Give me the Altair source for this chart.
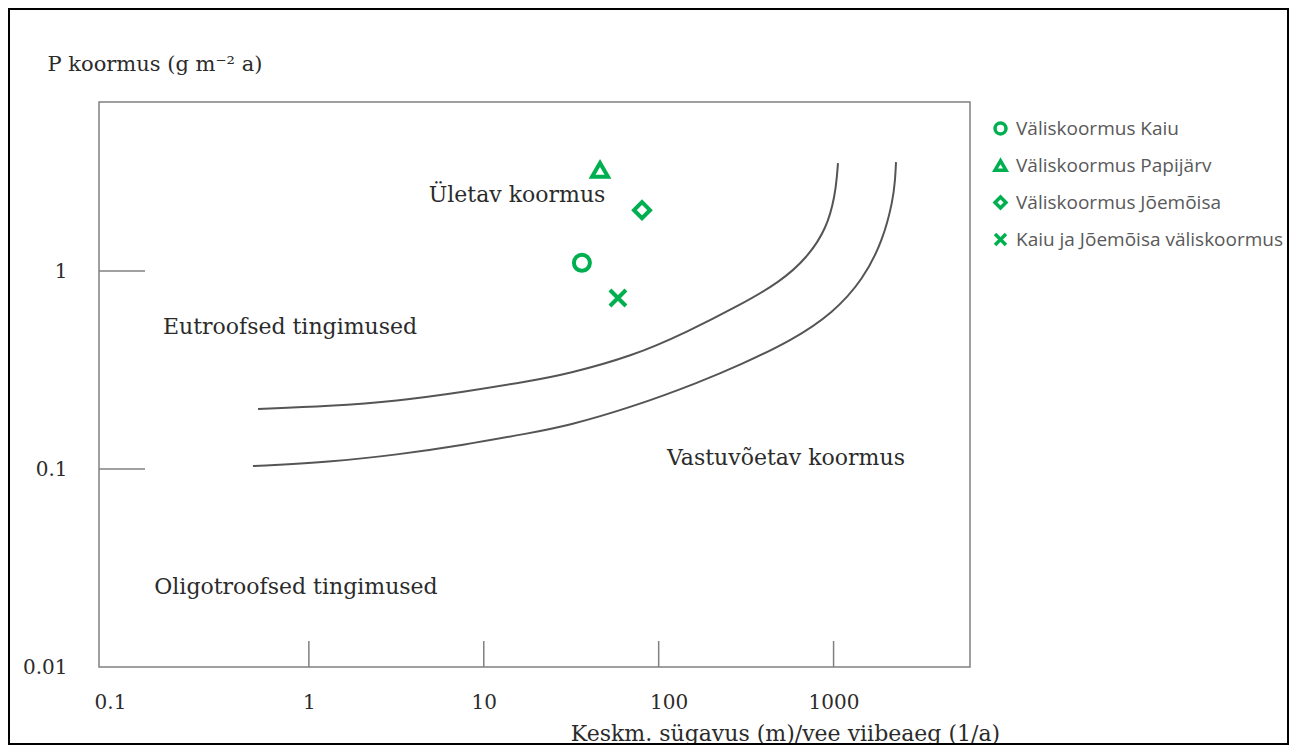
import altair as alt
import pandas as pd

# ---- data ----
series = ["Väliskoormus Kaiu", "Väliskoormus Papijärv", "Väliskoormus Jõemõisa",
          "Kaiu ja Jõemõisa väliskoormus"]
pt_x = [36.4, 46.2, 80.3, 58.5]
pt_y = [1.10, 3.24, 2.03, 0.731]
shapes = ["circle", "triangle-up", "diamond", "M-1,-1L1,1M1,-1L-1,1"]

upper_x = [0.512, 1.32, 3.19, 7.60, 18.4, 29.9, 71.3, 145, 292, 494, 705, 917, 1019, 1045, 1060]
upper_y = [0.201, 0.208, 0.2204, 0.2448, 0.2782, 0.3018, 0.3722, 0.4918, 0.6735, 0.880, 1.163, 1.649, 2.42, 3.0, 3.51]
lower_x = [0.479, 1.32, 3.19, 7.60, 18.4, 29.9, 71.3, 172, 292, 586, 993, 1472, 1916, 2187, 2250, 2275]
lower_y = [0.1035, 0.1085, 0.118, 0.132, 0.152, 0.1649, 0.206, 0.275, 0.335, 0.449, 0.614, 0.902, 1.43, 2.28, 2.9, 3.55]

label_text = ["Ületav koormus", "Eutroofsed tingimused", "Vastuvõetav koormus",
              "Oligotroofsed tingimused"]
label_x = [15.5, 0.78, 534, 0.844]
label_y = [2.42, 0.521, 0.1138, 0.02535]

x_ticks = [0.1, 1, 10, 100, 1000]
y_ticks = [0.01, 0.1, 1]
inner_x_ticks = [1, 10, 100, 1000]
inner_y_ticks = [0.1, 1]

# ---- styling ----
W, H = 871, 565
GREEN = "#00B050"
GRAY = "#808080"
CURVE = "#555555"
TXT = "#2b2b2b"
SERIF = "DejaVu Serif"

xscale = alt.Scale(type="log", domain=[0.0631, 6026], nice=False)
yscale = alt.Scale(type="log", domain=[0.01, 7.14], nice=False)

xaxis = alt.Axis(
    values=x_ticks, format="~g", ticks=False, tickSize=0, domain=False, grid=False,
    labelFont=SERIF, labelFontSize=20, labelColor=TXT, labelPadding=35,
    labelBaseline="middle", labelFlush=False, labelOverlap=False,
    labelOffset={"condition": [{"test": "datum.value < 0.5", "value": -24},
                               {"test": "datum.value > 50 && datum.value < 500", "value": 10}],
                 "value": 0},
    title="Keskm. sügavus (m)/vee viibeaeg (1/a)", titleFont=SERIF, titleFontSize=22,
    titleFontWeight="normal", titleColor=TXT, titleX=686, titleY=73,
    titleAlign="center", titleBaseline="alphabetic")

yaxis = alt.Axis(
    values=y_ticks, format="~g", ticks=False, tickSize=0, domain=False, grid=False,
    labelFont=SERIF, labelFontSize=20, labelColor=TXT, labelPadding=32,
    labelFlush=False, labelOverlap=False,
    title="P koormus (g m⁻² a)", titleFont=SERIF, titleFontSize=21,
    titleFontWeight="normal", titleColor=TXT, titleAngle=0, titleAlign="left",
    titleBaseline="alphabetic", titleX=-52, titleY=-32)

X = alt.X("x:Q", scale=xscale, axis=xaxis)
Y = alt.Y("y:Q", scale=yscale, axis=yaxis)

curves = pd.DataFrame({
    "x": upper_x + lower_x,
    "y": upper_y + lower_y,
    "curve": ["upper"] * len(upper_x) + ["lower"] * len(lower_x),
    "order": list(range(len(upper_x))) + list(range(len(lower_x))),
})
points = pd.DataFrame({"x": pt_x, "y": pt_y, "series": series})
labels = pd.DataFrame({"x": label_x, "y": label_y, "text": label_text})

line_layer = alt.Chart(curves).mark_line(
    color=CURVE, strokeWidth=2, interpolate="basis"
).encode(x=X, y=Y, detail="curve:N", order="order:Q")

xt_layer = alt.Chart(pd.DataFrame({"x": inner_x_ticks})).mark_rule(
    color=GRAY, strokeWidth=1.5
).encode(x=X, y=alt.value(H), y2=alt.value(H - 26))

yt_layer = alt.Chart(pd.DataFrame({"y": inner_y_ticks})).mark_rule(
    color=GRAY, strokeWidth=1.5
).encode(y=Y, x=alt.value(0), x2=alt.value(46))

text_layer = alt.Chart(labels).mark_text(
    font=SERIF, fontSize=22, color=TXT
).encode(x=X, y=Y, text="text:N")

leg = alt.Legend(
    title=None, orient="none", legendX=892, legendY=17, padding=0,
    labelFont="Open Sans", labelFontSize=19, labelColor="#595959", labelLimit=500,
    symbolSize=120, symbolStrokeWidth=3.5, rowPadding=12, labelOffset=6)

pt_layer = alt.Chart(points).mark_point(
    filled=False, strokeWidth=4, size=256, opacity=1
).encode(
    x=X, y=Y,
    color=alt.Color("series:N", scale=alt.Scale(domain=series, range=[GREEN] * 4), legend=leg),
    shape=alt.Shape("series:N", scale=alt.Scale(domain=series, range=shapes), legend=leg),
)

frame = alt.Chart(pd.DataFrame({"a": [0]})).mark_rect(
    fillOpacity=0, stroke="black", strokeWidth=2
).encode(x=alt.value(-90), x2=alt.value(1189), y=alt.value(-93), y2=alt.value(642))

chart = alt.layer(frame, line_layer, xt_layer, yt_layer, text_layer, pt_layer).properties(
    width=W, height=H,
    padding={"left": 91, "top": 94, "right": 319, "bottom": 78},
    autosize=alt.AutoSizeParams(type="none"),
    background="white",
).configure_view(stroke=GRAY, strokeWidth=1.5)

chart.save("out.html", embed_options={"renderer": "svg", "actions": False})
